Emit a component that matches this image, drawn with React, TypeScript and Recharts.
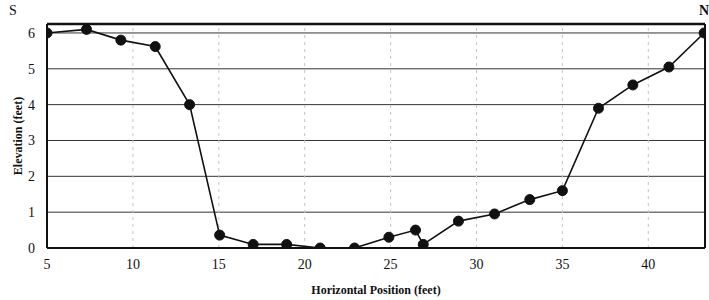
import React from 'react';
import {
  LineChart,
  Line,
  XAxis,
  YAxis,
  CartesianGrid,
  ReferenceLine,
  Label
} from 'recharts';

// horizontal position (feet) and elevation (feet) of each survey point
const positions = [5, 7.3, 9.3, 11.3, 13.3, 15.05, 17, 18.95, 20.9, 22.9, 24.9, 26.45, 26.9, 28.95, 31.05, 33.1, 35, 37.1, 39.1, 41.2, 43.25];
const elevations = [6.0, 6.1, 5.8, 5.62, 4.0, 0.36, 0.1, 0.1, 0.0, 0.0, 0.3, 0.5, 0.1, 0.75, 0.95, 1.35, 1.6, 3.9, 4.55, 5.05, 6.0];
const xTicks = [5, 10, 15, 20, 25, 30, 35, 40];
const yTicks = [0, 1, 2, 3, 4, 5, 6];

const data = positions.map((x, i) => ({ x, y: elevations[i] }));

const font = '"Liberation Serif", "DejaVu Serif", serif';

const App: React.FC = () => {
  return (
    <div style={{ position: 'absolute', left: 0, top: 0, background: '#fff' }}>
      <LineChart
        width={709}
        height={300}
        data={data}
        margin={{ top: 24, right: 4, left: 0, bottom: 2 }}
      >
        <CartesianGrid
          horizontal
          vertical={false}
          stroke="#333"
          strokeWidth={1}
        />
        {xTicks.slice(1).map(t => (
          <ReferenceLine key={t} x={t} stroke="#c4c4c4" strokeDasharray="3 4" />
        ))}
        <XAxis
          dataKey="x"
          type="number"
          domain={[5, 43.3]}
          ticks={xTicks}
          allowDataOverflow
          axisLine={{ stroke: '#111', strokeWidth: 2 }}
          tickLine={false}
          tick={{ fill: '#111', fontSize: 14, fontFamily: font }}
          tickMargin={5}
          height={50}
        >
          <Label
            value="Horizontal Position (feet)"
            position="insideBottom"
            offset={4}
            style={{ fill: '#111', fontSize: 12, fontWeight: 'bold', fontFamily: font }}
          />
        </XAxis>
        <YAxis
          type="number"
          domain={[0, 6.25]}
          ticks={yTicks}
          allowDataOverflow
          axisLine={{ stroke: '#111', strokeWidth: 2 }}
          tickLine={false}
          tick={{ fill: '#111', fontSize: 14, fontFamily: font }}
          tickMargin={6}
          width={47}
        >
          <Label
            value="Elevation (feet)"
            angle={-90}
            position="insideLeft"
            offset={18}
            style={{ textAnchor: 'middle', fill: '#111', fontSize: 12, fontWeight: 'bold', fontFamily: font }}
          />
        </YAxis>
        <ReferenceLine y={6.25} stroke="#111" strokeWidth={2.5}>
          <Label
            content={({ viewBox }: any) => (
              <g style={{ fontFamily: font, fontSize: 14, fill: '#111' }}>
                <text x={viewBox.x - 38} y={viewBox.y - 9}>S</text>
                <text x={viewBox.x + viewBox.width + 4} y={viewBox.y - 9} textAnchor="end" fontWeight="bold">N</text>
              </g>
            )}
          />
        </ReferenceLine>
        <ReferenceLine x={43.3} stroke="#111" strokeWidth={2} />
        <Line
          dataKey="y"
          stroke="#111"
          strokeWidth={1.6}
          dot={{ r: 5, fill: '#111', stroke: '#111', strokeWidth: 1 }}
          activeDot={false}
          isAnimationActive={false}
        />
      </LineChart>
    </div>
  );
};

export default App;
